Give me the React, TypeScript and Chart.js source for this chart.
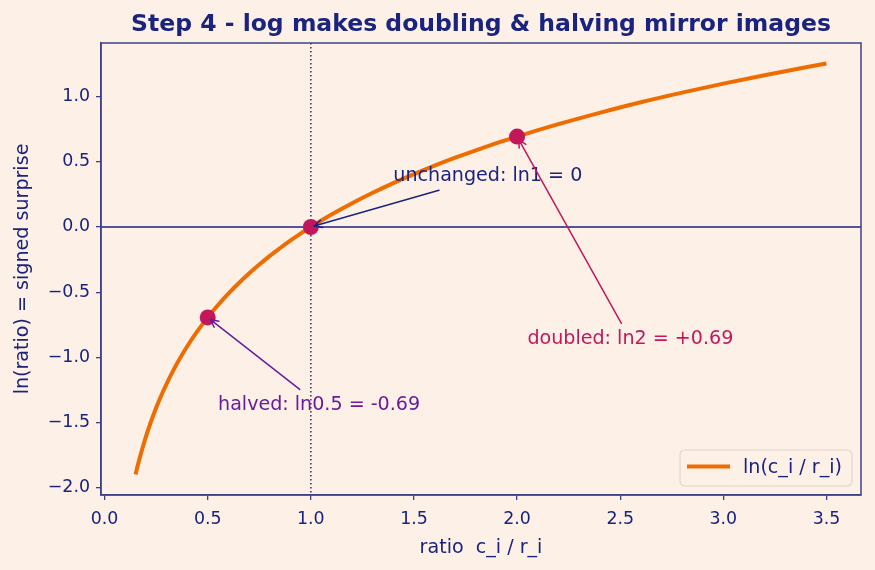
import React, { useEffect, useRef } from 'react';
import { Chart, registerables } from 'chart.js';

Chart.register(...registerables);

// ---- data ----
const ratioX = [0.15, 0.16, 0.17, 0.18, 0.2, 0.22, 0.25, 0.28, 0.3, 0.33, 0.36, 0.4, 0.45, 0.5, 0.55, 0.6, 0.65, 0.7, 0.75, 0.8, 0.85, 0.9, 0.95, 1.0, 1.1, 1.2, 1.3, 1.4, 1.5, 1.6, 1.7, 1.8, 1.9, 2.0, 2.2, 2.4, 2.6, 2.8, 3.0, 3.2, 3.4, 3.5];
const lnY = [-1.897, -1.833, -1.772, -1.715, -1.609, -1.514, -1.386, -1.273, -1.204, -1.109, -1.022, -0.916, -0.799, -0.693, -0.598, -0.511, -0.431, -0.357, -0.288, -0.223, -0.163, -0.105, -0.051, 0.0, 0.095, 0.182, 0.262, 0.336, 0.405, 0.47, 0.531, 0.588, 0.642, 0.693, 0.788, 0.875, 0.956, 1.03, 1.099, 1.163, 1.224, 1.253];
const markerX = [0.5, 1.0, 2.0];
const markerY = [-0.693, 0.0, 0.693];
const xTicks = [0.0, 0.5, 1.0, 1.5, 2.0, 2.5, 3.0, 3.5];
const yTicks = [-2.0, -1.5, -1.0, -0.5, 0.0, 0.5, 1.0];
const xLimits = [-0.0175, 3.6675];
const yLimits = [-2.0546, 1.4103];
const titleText = 'Step 4 - log makes doubling & halving mirror images';
const xLabel = 'ratio  c_i / r_i';
const yLabel = 'ln(ratio) = signed surprise';
const legendLabel = 'ln(c_i / r_i)';
const annTexts = ['unchanged: ln1 = 0', 'doubled: ln2 = +0.69', 'halved: ln0.5 = -0.69'];
const annTextX = [1.4, 2.05, 0.55];
const annTextY = [0.35, -0.9, -1.4];
const annTargetX = [1.0, 2.0, 0.5];
const annTargetY = [0.0, 0.693, -0.693];
const annColors = ['#1a237e', '#c2185b', '#6a1b9a'];
const refLineY = 0;
const refLineX = 1;

// ---- styles ----
const BG = '#fdf1e7';
const NAVY = '#1a237e';
const SPINE = '#3c4188';
const ORANGE = '#ef6c00';
const CRIMSON = '#c2185b';
const FONT = "'DejaVu Sans', sans-serif";

function fmt(v: number) {
  const s = Math.abs(v).toFixed(1);
  return v < 0 ? '\u2212' + s : s;
}

function drawArrow(ctx: CanvasRenderingContext2D, x0: number, y0: number, x1: number, y1: number, color: string) {
  const ang = Math.atan2(y1 - y0, x1 - x0);
  const hl = 7.6, hw = 3.8;
  ctx.save();
  ctx.strokeStyle = color;
  ctx.lineWidth = 1.5;
  ctx.lineCap = 'round';
  ctx.lineJoin = 'round';
  ctx.beginPath();
  ctx.moveTo(x0, y0);
  ctx.lineTo(x1, y1);
  ctx.stroke();
  const bx = x1 - hl * Math.cos(ang), by = y1 - hl * Math.sin(ang);
  const px = -Math.sin(ang) * hw, py = Math.cos(ang) * hw;
  ctx.beginPath();
  ctx.moveTo(bx + px, by + py);
  ctx.lineTo(x1, y1);
  ctx.lineTo(bx - px, by - py);
  ctx.stroke();
  ctx.restore();
}

const decorPlugin = {
  id: 'decor',
  beforeDatasetsDraw(chart: any) {
    const { ctx, chartArea: a, scales } = chart;
    const xs = scales.x, ys = scales.y;
    ctx.save();
    ctx.beginPath();
    ctx.rect(a.left, a.top, a.right - a.left, a.bottom - a.top);
    ctx.clip();
    const y0 = ys.getPixelForValue(refLineY);
    ctx.strokeStyle = NAVY;
    ctx.lineWidth = 1.5;
    ctx.beginPath();
    ctx.moveTo(a.left, y0);
    ctx.lineTo(a.right, y0);
    ctx.stroke();
    const x1 = xs.getPixelForValue(refLineX);
    ctx.strokeStyle = '#3b2470';
    ctx.lineWidth = 1.5;
    ctx.setLineDash([1.5, 2.5]);
    ctx.beginPath();
    ctx.moveTo(x1, a.top);
    ctx.lineTo(x1, a.bottom);
    ctx.stroke();
    ctx.restore();
  },
  afterDatasetsDraw(chart: any) {
    const { ctx, scales } = chart;
    const xs = scales.x, ys = scales.y;
    const size = 19.1;
    ctx.save();
    ctx.font = `${size}px ${FONT}`;
    ctx.textAlign = 'left';
    ctx.textBaseline = 'alphabetic';
    for (let i = 0; i < annTexts.length; i++) {
      const tx = xs.getPixelForValue(annTextX[i]);
      const ty = ys.getPixelForValue(annTextY[i]);
      const w = ctx.measureText(annTexts[i]).width;
      const top = ty - 0.76 * size, bot = ty + 0.236 * size;
      const pad = 3.5;
      const L = tx - pad, R = tx + w + pad, T = top - pad, B = bot + pad;
      const cx = tx + w / 2, cy = (top + bot) / 2;
      const gx = xs.getPixelForValue(annTargetX[i]);
      const gy = ys.getPixelForValue(annTargetY[i]);
      const dx = gx - cx, dy = gy - cy;
      let t = 1;
      if (dx > 0) t = Math.min(t, (R - cx) / dx);
      if (dx < 0) t = Math.min(t, (L - cx) / dx);
      if (dy > 0) t = Math.min(t, (B - cy) / dy);
      if (dy < 0) t = Math.min(t, (T - cy) / dy);
      const len = Math.hypot(dx, dy);
      const ux = dx / len, uy = dy / len;
      const sx = cx + dx * t + ux * 3.5, sy = cy + dy * t + uy * 3.5;
      const ex = gx - ux * 3.5, ey = gy - uy * 3.5;
      drawArrow(ctx, sx, sy, ex, ey, annColors[i]);
      ctx.fillStyle = annColors[i];
      ctx.fillText(annTexts[i], tx, ty);
    }
    ctx.restore();
  },
  afterDraw(chart: any) {
    const { ctx, chartArea: a } = chart;
    ctx.save();
    // spines
    ctx.strokeStyle = SPINE;
    ctx.lineWidth = 1.5;
    ctx.strokeRect(a.left, a.top, a.right - a.left, a.bottom - a.top);
    // title
    ctx.fillStyle = NAVY;
    ctx.font = `bold 23.5px ${FONT}`;
    ctx.textAlign = 'center';
    ctx.textBaseline = 'alphabetic';
    ctx.fillText(titleText, (a.left + a.right) / 2, 31);
    // axis labels
    ctx.font = `19.1px ${FONT}`;
    ctx.fillText(xLabel, (a.left + a.right) / 2, 553);
    ctx.save();
    ctx.translate(28, (a.top + a.bottom) / 2);
    ctx.rotate(-Math.PI / 2);
    ctx.fillText(yLabel, 0, 0);
    ctx.restore();
    // legend
    const lx = 680, ly = 450, lw = 172, lh = 36;
    ctx.fillStyle = 'rgba(253,241,231,0.8)';
    ctx.strokeStyle = '#e2d6cb';
    ctx.lineWidth = 1.2;
    ctx.beginPath();
    (ctx as any).roundRect(lx, ly, lw, lh, 5);
    ctx.fill();
    ctx.stroke();
    ctx.strokeStyle = ORANGE;
    ctx.lineWidth = 4;
    ctx.beginPath();
    ctx.moveTo(687, 466.5);
    ctx.lineTo(730, 466.5);
    ctx.stroke();
    ctx.fillStyle = NAVY;
    ctx.textAlign = 'left';
    ctx.fillText(legendLabel, 743, 473);
    ctx.restore();
  },
};

export default function App() {
  const ref = useRef<HTMLCanvasElement>(null);
  useEffect(() => {
    if (!ref.current) return;
    const tickFont = { family: FONT, size: 17.4 };
    const chart = new Chart(ref.current, {
      type: 'line',
      data: {
        datasets: [
          {
            label: 'markers',
            data: markerX.map((x, i) => ({ x, y: markerY[i] })),
            showLine: false,
            pointRadius: 8,
            pointBackgroundColor: CRIMSON,
            pointBorderColor: CRIMSON,
            pointBorderWidth: 0,
            order: 0,
          },
          {
            label: legendLabel,
            data: ratioX.map((x, i) => ({ x, y: lnY[i] })),
            borderColor: ORANGE,
            borderWidth: 4,
            borderJoinStyle: 'round',
            pointRadius: 0,
            fill: false,
            cubicInterpolationMode: 'monotone',
            order: 1,
          },
        ],
      },
      options: {
        animation: false,
        responsive: false,
        maintainAspectRatio: false,
        layout: { padding: { top: 43, right: 14, left: 0, bottom: 0 } },
        plugins: { legend: { display: false }, title: { display: false }, tooltip: { enabled: false } },
        scales: {
          x: {
            type: 'linear',
            min: xLimits[0],
            max: xLimits[1],
            afterBuildTicks: (s: any) => { s.ticks = xTicks.map((v) => ({ value: v })); },
            afterFit: (s: any) => { s.height = 75; },
            ticks: { font: tickFont, color: NAVY, padding: 9, maxRotation: 0, autoSkip: false, callback: (v: any) => fmt(Number(v)) },
            grid: { drawOnChartArea: false, drawTicks: true, tickLength: 5, color: SPINE, lineWidth: 1.3 },
            border: { display: true, color: SPINE, width: 1.5 },
          },
          y: {
            type: 'linear',
            min: yLimits[0],
            max: yLimits[1],
            afterBuildTicks: (s: any) => { s.ticks = yTicks.map((v) => ({ value: v })); },
            afterFit: (s: any) => { s.width = 101; },
            ticks: { font: tickFont, color: NAVY, padding: 6, autoSkip: false, callback: (v: any) => fmt(Number(v)) },
            grid: { drawOnChartArea: false, drawTicks: true, tickLength: 5, color: SPINE, lineWidth: 1.3 },
            border: { display: true, color: SPINE, width: 1.5 },
          },
        },
      },
      plugins: [decorPlugin],
    } as any);
    return () => chart.destroy();
  }, []);
  return (
    <div style={{ position: 'fixed', left: 0, top: 0, width: 875, height: 570, background: BG }}>
      <canvas ref={ref} width={875} height={570} style={{ display: 'block' }} />
    </div>
  );
}
